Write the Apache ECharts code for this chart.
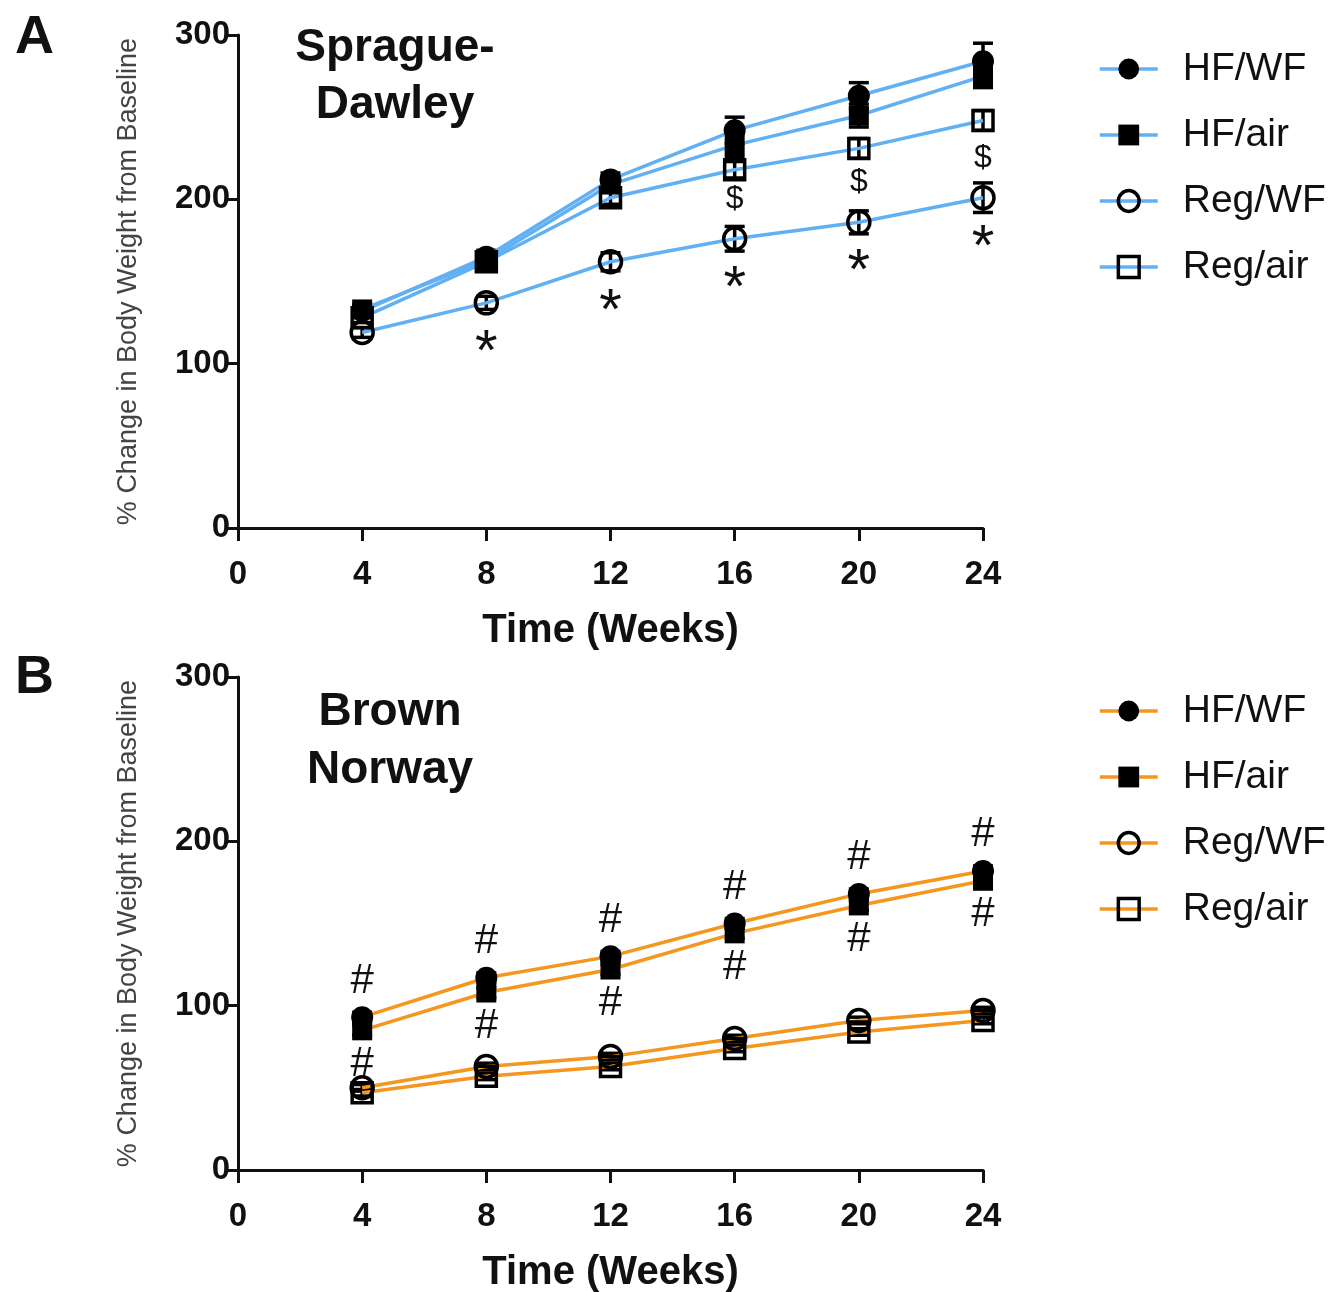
<!DOCTYPE html>
<html>
<head>
<meta charset="utf-8">
<style>
  html, body { margin: 0; padding: 0; background: #fff; }
  #chart { width: 1344px; height: 1292px; }
</style>
<script src="https://cdn.jsdelivr.net/npm/echarts@6/dist/echarts.min.js"></script>
</head>
<body>
<div id="chart"></div>
<script>
// Time points (weeks)
const weeks = [4, 8, 12, 16, 20, 24];
const xTicks = [0, 4, 8, 12, 16, 20, 24];
const yTicks = [0, 100, 200, 300];

// Sprague-Dawley: % change in body weight (mean) and SEM
const sdHfWf   = [132, 165, 212, 242, 263, 284];
const sdHfAir  = [133, 163, 209, 233, 251, 275];
const sdRegWf  = [119, 137, 162, 176, 186, 201];
const sdRegAir = [128, 162, 201, 218, 231, 248];
const sdHfWfSem   = [3, 4, 4, 8, 8, 11];
const sdHfAirSem  = [3, 4, 4, 7, 7, 7];
const sdRegWfSem  = [3, 4, 5.5, 7.5, 7, 9];
const sdRegAirSem = [3, 4, 4, 5, 6, 6];

// Brown Norway: % change in body weight (mean) and SEM
const bnHfWf   = [93, 117, 130, 150, 168, 182];
const bnHfAir  = [85, 108, 122, 144, 161, 176];
const bnRegWf  = [50, 63, 69, 80, 91, 97];
const bnRegAir = [47, 57, 63, 74, 84, 91];
const bnHfWfSem   = [3, 3, 3, 3, 3, 3];
const bnHfAirSem  = [3, 3, 3, 3, 3, 3];
const bnRegWfSem  = [2, 2, 2, 2, 2, 2];
const bnRegAirSem = [2, 2, 2, 2, 2, 2];

// Significance markers (weeks at which each symbol is shown)
const sdStarWeeks   = [8, 12, 16, 20, 24];   // under Reg/WF
const sdDollarWeeks = [16, 20, 24];          // above Reg/WF
const bnHashAboveWeeks = [4, 8, 12, 16, 20, 24]; // above HF/WF
const bnHashBelowWeeks = [4, 8, 12, 16, 20, 24]; // under HF/air

const groupNames = ['HF/WF', 'HF/air', 'Reg/WF', 'Reg/air'];

const BLUE = '#62b0f4';
const ORANGE = '#f5961e';
const FONT = '"Liberation Sans", Arial, Helvetica, sans-serif';

const groupSymbols = [
  { symbol: 'circle', filled: true },
  { symbol: 'rect', filled: true },
  { symbol: 'circle', filled: false },
  { symbol: 'rect', filled: false }
];

function symbolStyle(idx) {
  const s = groupSymbols[idx];
  return {
    color: s.filled ? '#000' : 'rgba(0,0,0,0)',
    borderColor: '#000',
    borderWidth: s.filled ? 0 : 3.5
  };
}

function pairs(values) {
  return weeks.map((w, i) => [w, values[i]]);
}

function lineSeries(name, values, idx, color, axisIdx) {
  const s = groupSymbols[idx];
  return {
    type: 'line',
    name: name,
    xAxisIndex: axisIdx,
    yAxisIndex: axisIdx,
    data: pairs(values),
    symbol: s.symbol,
    symbolSize: s.symbol === 'rect' ? 20 : 22,
    lineStyle: { color: color, width: 3.5 },
    itemStyle: symbolStyle(idx),
    emphasis: { disabled: true },
    z: 3
  };
}

function errorSeries(values, sems, axisIdx) {
  return {
    type: 'custom',
    xAxisIndex: axisIdx,
    yAxisIndex: axisIdx,
    silent: true,
    z: 2,
    data: weeks.map((w, i) => [w, values[i], sems[i]]),
    renderItem: function (params, api) {
      const x = api.value(0), m = api.value(1), e = api.value(2);
      const top = api.coord([x, m + e]);
      const bot = api.coord([x, m - e]);
      const cap = 10;
      const st = { stroke: '#000', lineWidth: 3.5 };
      return {
        type: 'group',
        children: [
          { type: 'line', shape: { x1: top[0], y1: top[1], x2: bot[0], y2: bot[1] }, style: st },
          { type: 'line', shape: { x1: top[0] - cap, y1: top[1], x2: top[0] + cap, y2: top[1] }, style: st },
          { type: 'line', shape: { x1: bot[0] - cap, y1: bot[1], x2: bot[0] + cap, y2: bot[1] }, style: st }
        ]
      };
    }
  };
}

// Text marker placed a fixed pixel distance above (dy<0) or below (dy>0) a point
function markSeries(markWeeks, values, text, dy, size, axisIdx) {
  return {
    type: 'custom',
    xAxisIndex: axisIdx,
    yAxisIndex: axisIdx,
    silent: true,
    z: 4,
    data: markWeeks.map(w => [w, values[weeks.indexOf(w)]]),
    renderItem: function (params, api) {
      const p = api.coord([api.value(0), api.value(1)]);
      return {
        type: 'text',
        x: p[0],
        y: p[1] + dy,
        style: {
          text: text,
          fill: '#111',
          font: size + 'px ' + FONT,
          align: 'center',
          verticalAlign: 'middle'
        }
      };
    }
  };
}

function xAxis(gridIndex) {
  return {
    type: 'value',
    gridIndex: gridIndex,
    min: 0, max: 24, interval: 4,
    name: 'Time (Weeks)',
    nameLocation: 'middle',
    nameGap: 83,
    nameTextStyle: { fontFamily: FONT, fontWeight: 'bold', fontSize: 40, color: '#111' },
    axisLine: { show: true, onZero: false, lineStyle: { color: '#111', width: 3 } },
    axisTick: { show: true, inside: false, length: 13, lineStyle: { color: '#111', width: 3 } },
    axisLabel: {
      fontFamily: FONT, fontWeight: 'bold', fontSize: 33, color: '#111', margin: 30,
      customValues: xTicks
    },
    splitLine: { show: false }
  };
}

function yAxis(gridIndex) {
  return {
    type: 'value',
    gridIndex: gridIndex,
    min: 0, max: 300, interval: 100,
    name: '% Change in Body Weight from Baseline',
    nameLocation: 'middle',
    nameGap: 96,
    nameTextStyle: { fontFamily: FONT, fontSize: 27, color: '#444' },
    axisLine: { show: true, onZero: false, lineStyle: { color: '#111', width: 3 } },
    axisTick: { show: true, inside: false, length: 13, lineStyle: { color: '#111', width: 3 } },
    axisLabel: {
      fontFamily: FONT, fontWeight: 'bold', fontSize: 33, color: '#111', margin: 8,
      customValues: yTicks
    },
    splitLine: { show: false }
  };
}

function legend(top, color) {
  return {
    orient: 'vertical',
    left: 1093,
    top: top,
    itemWidth: 58,
    itemHeight: 26,
    itemGap: 26,
    selectedMode: false,
    textStyle: { fontFamily: FONT, fontSize: 39, lineHeight: 40, color: '#111', padding: [0, 0, 0, 20] },
    data: groupNames.map((n, i) => ({
      name: n,
      lineStyle: { color: color, width: 3.5 },
      itemStyle: symbolStyle(i)
    }))
  };
}

const series = [
  errorSeries(sdHfWf, sdHfWfSem, 0),
  errorSeries(sdHfAir, sdHfAirSem, 0),
  errorSeries(sdRegWf, sdRegWfSem, 0),
  errorSeries(sdRegAir, sdRegAirSem, 0),
  lineSeries(groupNames[0], sdHfWf, 0, BLUE, 0),
  lineSeries(groupNames[1], sdHfAir, 1, BLUE, 0),
  lineSeries(groupNames[2], sdRegWf, 2, BLUE, 0),
  lineSeries(groupNames[3], sdRegAir, 3, BLUE, 0),
  markSeries(sdStarWeeks, sdRegWf, '*', 51, 58, 0),
  markSeries(sdDollarWeeks, sdRegWf, '$', -40, 32, 0),

  errorSeries(bnHfWf, bnHfWfSem, 1),
  errorSeries(bnHfAir, bnHfAirSem, 1),
  errorSeries(bnRegWf, bnRegWfSem, 1),
  errorSeries(bnRegAir, bnRegAirSem, 1),
  lineSeries(groupNames[0], bnHfWf, 0, ORANGE, 1),
  lineSeries(groupNames[1], bnHfAir, 1, ORANGE, 1),
  lineSeries(groupNames[2], bnRegWf, 2, ORANGE, 1),
  lineSeries(groupNames[3], bnRegAir, 3, ORANGE, 1),
  markSeries(bnHashAboveWeeks, bnHfWf, '#', -36, 42, 1),
  markSeries(bnHashBelowWeeks, bnHfAir, '#', 34, 42, 1)
];

const chart = echarts.init(document.getElementById('chart'), null, { renderer: 'canvas' });
chart.setOption({
  backgroundColor: '#fff',
  animation: false,
  title: [
    { text: 'A', left: 10, top: 6, textStyle: { fontFamily: FONT, fontWeight: 'bold', fontSize: 54, color: '#111' } },
    { text: 'B', left: 10, top: 646, textStyle: { fontFamily: FONT, fontWeight: 'bold', fontSize: 54, color: '#111' } },
    { text: 'Sprague-\nDawley', left: 390, top: 15, textAlign: 'center',
      textStyle: { fontFamily: FONT, fontWeight: 'bold', fontSize: 46, lineHeight: 57, color: '#111' } },
    { text: 'Brown\nNorway', left: 385, top: 678, textAlign: 'center',
      textStyle: { fontFamily: FONT, fontWeight: 'bold', fontSize: 46, lineHeight: 58, color: '#111' } }
  ],
  legend: [legend(44, BLUE), legend(686, ORANGE)],
  grid: [
    { left: 238, top: 35, width: 745, height: 493, outerBoundsMode: 'none' },
    { left: 238, top: 677, width: 745, height: 493, outerBoundsMode: 'none' }
  ],
  xAxis: [xAxis(0), xAxis(1)],
  yAxis: [yAxis(0), yAxis(1)],
  series: series
});
</script>
</body>
</html>
